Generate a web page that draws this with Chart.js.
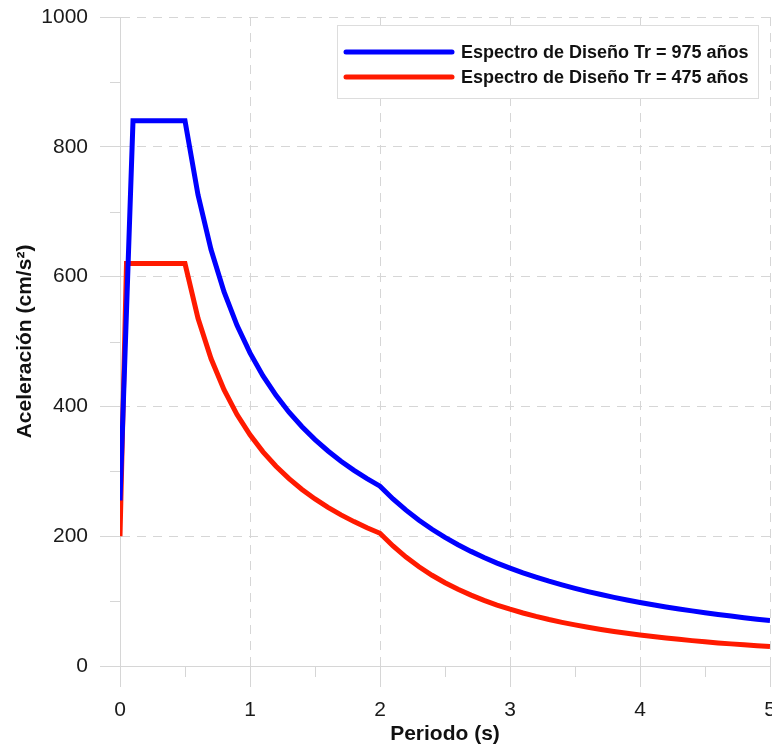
<!DOCTYPE html>
<html>
<head>
<meta charset="utf-8">
<script src="https://cdn.jsdelivr.net/npm/chart.js@4/dist/chart.umd.min.js"></script>
<style>
  html, body { margin: 0; padding: 0; background: #fff; }
</style>
</head>
<body>
<canvas id="espectro" width="772" height="747"></canvas>
<script>
// periodos comunes a partir de 0.5 s
const periodosCola = [0.5, 0.6, 0.7, 0.8, 0.9, 1.0, 1.1, 1.2, 1.3, 1.4, 1.5, 1.6, 1.7, 1.8, 1.9, 2.0,
  2.1, 2.2, 2.3, 2.4, 2.5, 2.6, 2.7, 2.8, 2.9, 3.0, 3.1, 3.2, 3.3, 3.4, 3.5, 3.6, 3.7, 3.8, 3.9,
  4.0, 4.1, 4.2, 4.3, 4.4, 4.5, 4.6, 4.7, 4.8, 4.9, 5.0];

const periodos975 = [0, 0.1].concat(periodosCola);
const acel975 = [255, 840,
  840, 726, 641.8, 576.7, 524.9, 482.4, 447.0, 417.0, 391.1, 368.6, 348.8, 331.3, 315.6, 301.5, 288.7, 277.1,
  257.4, 240.1, 224.6, 210.7, 198.2, 186.9, 176.6, 167.2, 158.6, 150.8,
  143.5, 136.9, 130.7, 125.0, 119.7, 114.7, 110.1, 105.8, 101.7, 97.9,
  94.4, 91.0, 87.9, 84.9, 82.1, 79.4, 76.9, 74.5, 72.2, 70.1];

const periodos475 = [0, 0.05].concat(periodosCola);
const acel475 = [200, 620,
  620, 535.8, 473.7, 425.7, 387.4, 356.1, 330.0, 307.8, 288.7, 272.1, 257.4, 244.5, 232.9, 222.5, 213.1, 204.5,
  185.0, 167.8, 152.9, 139.8, 128.3, 118.2, 109.2, 101.1, 93.9, 87.5,
  81.7, 76.4, 71.6, 67.3, 63.3, 59.7, 56.3, 53.3, 50.4, 47.8,
  45.4, 43.2, 41.1, 39.1, 37.3, 35.6, 34.1, 32.6, 31.2, 29.9];

const etiquetas = ['Espectro de Diseño Tr = 975 años', 'Espectro de Diseño Tr = 475 años'];
const colores = ['#0000ff', '#ff1a00'];

const xMinor = [0.5, 1.5, 2.5, 3.5, 4.5];
const yMinor = [100, 300, 500, 700, 900];

const gris = '#d6d6d6';
const fuente = "'Liberation Sans', Arial, sans-serif";

function puntos(xs, ys) {
  return xs.map(function(v, i) { return {x: v, y: ys[i]}; });
}

const extras = {
  id: 'extras',
  afterDraw: function(chart) {
    const ctx = chart.ctx;
    const area = chart.chartArea;
    const x = chart.scales.x, y = chart.scales.y;
    ctx.save();
    // ticks menores
    ctx.strokeStyle = gris;
    ctx.lineWidth = 1;
    ctx.beginPath();
    xMinor.forEach(function(v) {
      const px = Math.round(x.getPixelForValue(v)) + 0.5;
      ctx.moveTo(px, area.bottom);
      ctx.lineTo(px, area.bottom + 11);
    });
    yMinor.forEach(function(v) {
      const py = Math.round(y.getPixelForValue(v)) + 0.5;
      ctx.moveTo(area.left - 10, py);
      ctx.lineTo(area.left, py);
    });
    ctx.stroke();

    // leyenda
    const bx = area.right - 433, by = area.top + 8, bw = 421, bh = 73;
    ctx.fillStyle = '#fff';
    ctx.fillRect(bx, by, bw, bh);
    ctx.strokeStyle = '#dddddd';
    ctx.strokeRect(bx + 0.5, by + 0.5, bw, bh);
    ctx.font = 'bold 18px ' + fuente;
    ctx.textBaseline = 'middle';
    ctx.lineCap = 'round';
    chart.data.datasets.forEach(function(ds, i) {
      const ly = by + 27 + i * 25;
      ctx.strokeStyle = ds.borderColor;
      ctx.lineWidth = 5;
      ctx.beginPath();
      ctx.moveTo(bx + 9, ly);
      ctx.lineTo(bx + 115, ly);
      ctx.stroke();
      ctx.fillStyle = '#111';
      ctx.fillText(ds.label, bx + 124, ly + 1);
    });
    ctx.restore();
  }
};

new Chart(document.getElementById('espectro'), {
  type: 'line',
  data: {
    datasets: [
      { label: etiquetas[0], data: puntos(periodos975, acel975), borderColor: colores[0], backgroundColor: colores[0] },
      { label: etiquetas[1], data: puntos(periodos475, acel475), borderColor: colores[1], backgroundColor: colores[1] }
    ]
  },
  options: {
    responsive: false,
    animation: false,
    layout: { padding: { top: 17, right: 2, left: 0, bottom: 0 } },
    elements: {
      line: { borderWidth: 5, tension: 0, fill: false },
      point: { radius: 0 }
    },
    plugins: {
      legend: { display: false },
      tooltip: { enabled: false }
    },
    scales: {
      x: {
        type: 'linear',
        min: 0, max: 5,
        ticks: { stepSize: 1, color: '#1a1a1a', font: { family: fuente, size: 21 }, padding: 11, maxRotation: 0,
          callback: function(v) { return String(v); } },
        grid: { color: gris, tickColor: gris, tickLength: 21 },
        border: { color: gris, dash: [9, 7] },
        title: { display: true, text: 'Periodo (s)', color: '#111', font: { family: fuente, size: 21, weight: 'bold' }, padding: { top: 0, bottom: 0 } },
        afterFit: function(s) { s.height = 81; s.paddingLeft = 0; s.paddingRight = 0; }
      },
      y: {
        min: 0, max: 1000,
        ticks: { stepSize: 200, color: '#1a1a1a', font: { family: fuente, size: 21 }, padding: 12,
          callback: function(v) { return String(v); } },
        grid: { color: gris, tickColor: gris, tickLength: 20 },
        border: { color: gris, dash: [9, 7] },
        title: { display: true, text: 'Aceleración (cm/s²)', color: '#111', font: { family: fuente, size: 21, weight: 'bold' }, padding: { top: 13, bottom: 0 } },
        afterFit: function(s) { s.width = 120; s.paddingTop = 0; s.paddingBottom = 0; }
      }
    }
  },
  plugins: [extras]
});
</script>
</body>
</html>
